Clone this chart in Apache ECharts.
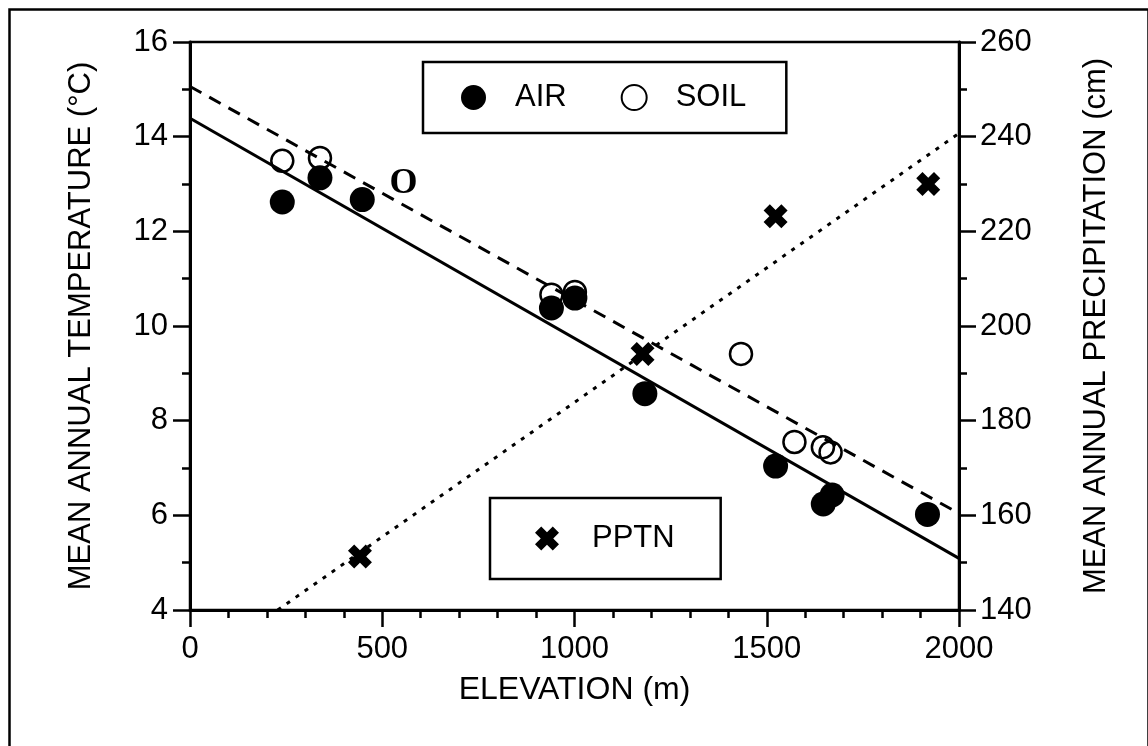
<!DOCTYPE html>
<html>
<head>
<meta charset="utf-8">
<script src="https://cdn.jsdelivr.net/npm/echarts@6/dist/echarts.min.js"></script>
<style>
html,body{margin:0;padding:0;background:#fff;}
#c{width:1148px;height:746px;}
</style>
</head>
<body>
<div id="c"></div>
<script>
// ---- data ----
const airElev  = [240, 338, 448, 940, 1001, 1183, 1523, 1647, 1670, 1918];
const airTemp  = [12.62, 13.13, 12.67, 10.38, 10.59, 8.57, 7.04, 6.24, 6.43, 6.02];
const soilElev = [240, 338, 555, 940, 1001, 1433, 1572, 1646, 1666];
const soilTemp = [13.49, 13.55, 13.0, 10.66, 10.72, 9.41, 7.55, 7.44, 7.33];
const pptnElev = [442, 1177, 1523, 1920];
const pptnCm   = [151.3, 194.1, 223.2, 230.0];
// regression lines (end points)
const airFitElev  = [0, 2000];
const airFitTemp  = [14.39, 5.09];
const soilFitElev = [0, 2000];
const soilFitTemp = [15.06, 6.04];
const pptnFitElev = [228, 2000];
const pptnFitCm   = [140.0, 240.7];
// axis ticks
const xTicks = [0, 500, 1000, 1500, 2000];
const tempTicks = [4, 6, 8, 10, 12, 14, 16];
const pptnTicks = [140, 160, 180, 200, 220, 240, 260];

const FONT = 'Liberation Sans, Arial, sans-serif';
const zip = (a, b) => a.map((v, i) => [v, b[i]]);
const crossPath = 'path://M0,2.6 L2.6,0 L5,2.4 L7.4,0 L10,2.6 L7.6,5 L10,7.4 L7.4,10 L5,7.6 L2.6,10 L0,7.4 L2.4,5 Z';

const soilData = zip(soilElev, soilTemp).map((p, i) => {
  if (i === 2) {
    return {
      value: p,
      symbolSize: 1,
      itemStyle: {color: 'rgba(0,0,0,0)', borderWidth: 0},
      label: {show: true, position: 'inside', formatter: 'O', color: '#000',
        fontFamily: 'Liberation Serif, serif', fontWeight: 'bold', fontSize: 36}
    };
  }
  return p;
});

const axisCommon = {
  axisLine: {show: true, onZero: false, lineStyle: {color: '#000', width: 3}},
  axisTick: {show: true, inside: false, length: 17, lineStyle: {color: '#000', width: 2.5}},
  minorTick: {show: true, length: 8, lineStyle: {color: '#000', width: 2.5}},
  splitLine: {show: false},
  axisLabel: {color: '#000', fontFamily: FONT, fontSize: 31, formatter: v => String(v)},
  nameTextStyle: {color: '#000', fontFamily: FONT, fontSize: 31}
};

const chart = echarts.init(document.getElementById('c'), null, {renderer: 'canvas'});
chart.setOption({
  animation: false,
  backgroundColor: '#fff',
  grid: {left: 190, right: 189, top: 42, bottom: 136, containLabel: false,
         show: true, borderColor: '#000', borderWidth: 2.5, outerBoundsMode: 'none'},
  legend: [
    {
      data: ['AIR', 'SOIL'],
      left: 423, top: 62,
      orient: 'horizontal',
      padding: [20, 40, 20, 38],
      itemWidth: 25, itemHeight: 25, itemGap: 54,
      borderColor: '#000', borderWidth: 2.5,
      selectedMode: false,
      textStyle: {color: '#000', fontFamily: FONT, fontSize: 31, padding: [0, 0, 0, 24]}
    },
    {
      data: ['PPTN'],
      left: 490, top: 498,
      padding: [25, 46, 25, 45],
      itemWidth: 24, itemHeight: 24,
      borderColor: '#000', borderWidth: 2.5,
      selectedMode: false,
      textStyle: {color: '#000', fontFamily: FONT, fontSize: 31, padding: [0, 0, 0, 28]}
    }
  ],
  xAxis: Object.assign({}, axisCommon, {
    type: 'value', min: xTicks[0], max: xTicks[xTicks.length - 1], interval: 500,
    minorTick: Object.assign({}, axisCommon.minorTick, {splitNumber: 5}),
    axisLabel: Object.assign({}, axisCommon.axisLabel, {margin: 24}),
    name: 'ELEVATION (m)', nameLocation: 'middle', nameGap: 64,
    nameTextStyle: Object.assign({}, axisCommon.nameTextStyle, {fontSize: 32})
  }),
  yAxis: [
    Object.assign({}, axisCommon, {
      type: 'value', position: 'left', min: tempTicks[0], max: tempTicks[tempTicks.length - 1], interval: 2,
      minorTick: Object.assign({}, axisCommon.minorTick, {splitNumber: 2}),
      axisLabel: Object.assign({}, axisCommon.axisLabel, {margin: 22}),
      name: 'MEAN ANNUAL TEMPERATURE (°C)', nameLocation: 'middle', nameGap: 93
    }),
    Object.assign({}, axisCommon, {
      type: 'value', position: 'right', min: pptnTicks[0], max: pptnTicks[pptnTicks.length - 1], interval: 20,
      minorTick: Object.assign({}, axisCommon.minorTick, {splitNumber: 2}),
      axisLabel: Object.assign({}, axisCommon.axisLabel, {margin: 21}),
      name: 'MEAN ANNUAL PRECIPITATION (cm)', nameLocation: 'middle', nameGap: 122
    })
  ],
  series: [
    {
      name: 'AIR fit', type: 'line', yAxisIndex: 0, data: zip(airFitElev, airFitTemp),
      symbol: 'none', lineStyle: {color: '#000', width: 3, type: 'solid'}, z: 1, silent: true
    },
    {
      name: 'SOIL fit', type: 'line', yAxisIndex: 0, data: zip(soilFitElev, soilFitTemp),
      symbol: 'none', lineStyle: {color: '#000', width: 3, type: [13, 9]}, z: 1, silent: true
    },
    {
      name: 'PPTN fit', type: 'line', yAxisIndex: 1, data: zip(pptnFitElev, pptnFitCm),
      symbol: 'none', lineStyle: {color: '#000', width: 3, type: [4, 7]}, z: 1, silent: true
    },
    {
      name: 'SOIL', type: 'scatter', yAxisIndex: 0, data: soilData,
      symbol: 'circle', symbolSize: 22,
      itemStyle: {color: 'rgba(255,255,255,0)', borderColor: '#000', borderWidth: 2.5, opacity: 1}, z: 3
    },
    {
      name: 'AIR', type: 'scatter', yAxisIndex: 0, data: zip(airElev, airTemp),
      symbol: 'circle', symbolSize: 25,
      itemStyle: {color: '#000', opacity: 1}, z: 4
    },
    {
      name: 'PPTN', type: 'scatter', yAxisIndex: 1, data: zip(pptnElev, pptnCm),
      symbol: crossPath, symbolSize: 24,
      itemStyle: {color: '#000', opacity: 1}, z: 4
    }
  ],
  graphic: [
    {type: 'rect', left: 7, top: 7, z: -10, silent: true,
     shape: {width: 1139, height: 800},
     style: {fill: 'none', stroke: '#000', lineWidth: 2.5}}
  ]
});
</script>
</body>
</html>
